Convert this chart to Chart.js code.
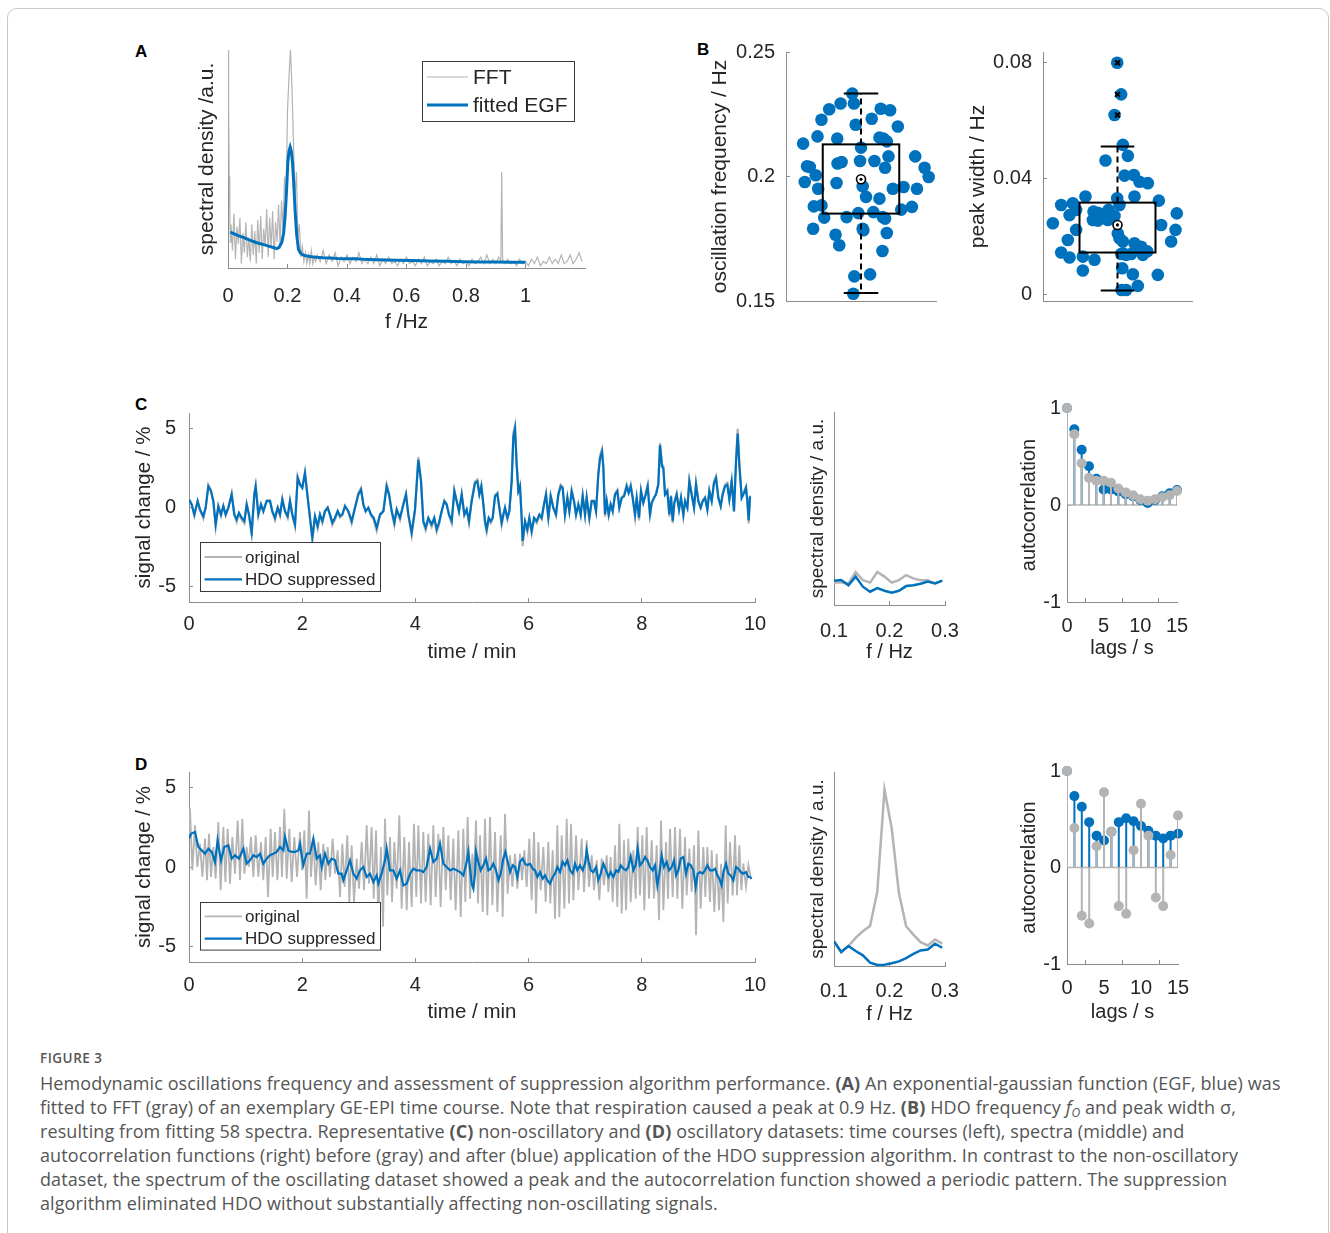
<!DOCTYPE html>
<html>
<head>
<meta charset="utf-8">
<title>Figure 3</title>
<script src="https://cdn.jsdelivr.net/npm/chart.js@4.4.0/dist/chart.umd.min.js"></script>
<style>
  body { margin: 0; background: #fff; }
  #page { position: relative; width: 1330px; height: 1233px; overflow: hidden; background: #fff; }
  #frame { position: absolute; left: 7px; top: 8px; width: 1320px; height: 1260px; border: 1px solid #c8c8c8; border-radius: 10px; }
  #page canvas { position: absolute; }
  .tag { position: absolute; font: bold 17px/17px "Liberation Sans", Arial, sans-serif; color: #000; }
  #figno { position: absolute; left: 40px; top: 1046px; font: 600 13.5px/24px "Open Sans", sans-serif; letter-spacing: 0.5px; color: #555; }
  #caption { position: absolute; left: 40px; top: 1071px; font: 400 18px/24px "Open Sans", sans-serif; letter-spacing: 0.1px; color: #555; white-space: nowrap; }
  #caption b { font-weight: 700; }
  #caption sub { font-size: 12px; line-height: 0; vertical-align: -3px; }
</style>
</head>
<body>
<div id="page">
  <div id="frame"></div>
  <div class="tag" style="left:135px;top:43px">A</div>
  <div class="tag" style="left:697px;top:41px">B</div>
  <div class="tag" style="left:135px;top:396px">C</div>
  <div class="tag" style="left:135px;top:756px">D</div>
  <div id="figno">FIGURE 3</div>
  <div id="caption">Hemodynamic oscillations frequency and assessment of suppression algorithm performance. <b>(A)</b> An exponential-gaussian function (EGF, blue) was<br>fitted to FFT (gray) of an exemplary GE-EPI time course. Note that respiration caused a peak at 0.9 Hz. <b>(B)</b> HDO frequency <i>f</i><sub><i>O</i></sub> and peak width σ,<br>resulting from fitting 58 spectra. Representative <b>(C)</b> non-oscillatory and <b>(D)</b> oscillatory datasets: time courses (left), spectra (middle) and<br>autocorrelation functions (right) before (gray) and after (blue) application of the HDO suppression algorithm. In contrast to the non-oscillatory<br>dataset, the spectrum of the oscillating dataset showed a peak and the autocorrelation function showed a periodic pattern. The suppression<br>algorithm eliminated HDO without substantially affecting non-oscillating signals.</div>
</div>
<script>
// ---------- panel A: FFT and fitted EGF (arbitrary units)
const fftFreq = [0,0.002,0.004,0.006,0.008,0.010,0.015,0.020,0.025,0.030,0.035,0.040,0.045,0.050,0.055,0.060,
  0.065,0.070,0.075,0.080,0.085,0.090,0.095,0.100,0.105,0.110,0.115,0.120,0.125,0.130,0.135,0.140,0.145,0.150,
  0.155,0.160,0.165,0.170,0.175,0.180,0.185,0.190,0.195,0.200,0.205,0.210,0.215,0.220,0.225,0.230,0.235,0.240,
  0.245,0.250,0.255,0.260,0.265,0.270,0.275,0.280,0.285,0.290,0.295,0.300,
  0.31,0.32,0.33,0.34,0.35,0.36,0.37,0.38,0.39,0.40,0.41,0.42,0.43,0.44,0.45,0.46,0.47,0.48,0.49,0.50,
  0.51,0.52,0.53,0.54,0.55,0.56,0.57,0.58,0.59,0.60,0.61,0.62,0.63,0.64,0.65,0.66,0.67,0.68,0.69,0.70,
  0.71,0.72,0.73,0.74,0.75,0.76,0.77,0.78,0.79,0.80,0.81,0.82,0.83,0.84,0.85,0.86,0.87,0.88,0.89,0.90,
  0.91,0.917,0.920,0.923,0.93,0.94,0.95,0.96,0.97,0.98,0.99,1.00,1.01,1.02,1.03,1.04,1.05,1.06,1.07,1.08,
  1.09,1.10,1.11,1.12,1.13,1.14,1.15,1.16,1.17,1.18,1.19];
const fftAmp = [1.00,0.75,0.42,0.26,0.12,0.20,0.08,0.25,0.04,0.19,0.11,0.23,0.02,0.16,0.07,0.21,
  0.05,0.14,0.03,0.20,0.06,0.17,0.02,0.22,0.07,0.24,0.04,0.18,0.10,0.27,0.05,0.23,0.09,0.26,
  0.04,0.21,0.12,0.29,0.10,0.31,0.17,0.42,0.28,0.72,0.88,1.00,0.83,0.58,0.33,0.44,0.13,0.20,
  0.05,0.10,0.03,0.07,0.02,0.06,0.02,0.08,0.02,0.05,0.03,0.06,
  0.03,0.08,0.02,0.06,0.03,0.07,0.01,0.05,0.03,0.06,0.02,0.05,0.03,0.07,0.02,0.04,0.02,0.05,0.02,0.06,
  0.01,0.04,0.02,0.05,0.02,0.03,0.01,0.04,0.02,0.05,0.02,0.03,0.01,0.04,0.02,0.05,0.01,0.03,0.02,0.04,
  0.01,0.03,0.02,0.05,0.02,0.03,0.01,0.04,0.02,0.03,0.01,0.04,0.02,0.03,0.05,0.02,0.06,0.02,0.04,0.02,
  0.05,0.03,0.44,0.04,0.02,0.04,0.02,0.03,0.01,0.04,0.02,0.03,0.01,0.04,0.02,0.05,0.01,0.03,0.02,0.05,
  0.02,0.04,0.02,0.06,0.02,0.03,0.06,0.02,0.04,0.07,0.03];
const egfFreq = [0.008,0.03,0.053,0.075,0.097,0.12,0.142,0.155,0.164,0.172,0.181,0.187,0.192,0.197,0.201,
  0.205,0.209,0.213,0.217,0.222,0.226,0.231,0.237,0.243,0.248,0.256,0.265,0.28,0.298,0.32,0.343,0.37,0.399,
  0.43,0.455,0.5,0.566,0.62,0.678,0.74,0.79,0.85,0.902,0.95,1.0];
const egfAmp = [0.165,0.151,0.139,0.127,0.116,0.107,0.098,0.093,0.089,0.095,0.118,0.16,0.238,0.36,0.482,
  0.535,0.555,0.535,0.482,0.36,0.253,0.15,0.085,0.07,0.063,0.058,0.055,0.052,0.049,0.047,0.046,0.044,0.043,
  0.042,0.040,0.038,0.035,0.034,0.032,0.031,0.029,0.028,0.027,0.0265,0.026];
const fftTicks = [0, 0.2, 0.4, 0.6, 0.8, 1];

// ---------- panel B: 58 fitted spectra (jitter is horizontal spread only)
const freqJitter = [-0.116,-0.094,-0.272,-0.424,0.263,0.388,-0.527,0.143,-0.071,0.491,-0.580,-0.317,0.246,0.344,
  -0.772,0.000,0.723,0.366,-0.313,-0.259,-0.013,0.179,-0.719,0.321,0.848,-0.603,0.902,-0.750,-0.326,0.022,0.424,
  -0.571,0.746,0.067,0.246,-0.629,-0.527,0.679,0.536,-0.036,0.165,0.290,-0.491,-0.638,0.022,0.344,-0.339,-0.290,
  0.286,0.121,-0.089,-0.103,0.031,0.321,-0.683,0.299,-0.192,0.567];
const freqHz = [0.2333,0.2293,0.2293,0.2270,0.2272,0.2266,0.2228,0.2232,0.2208,0.2201,0.2161,0.2152,0.2156,0.2141,
  0.2132,0.2116,0.2081,0.2081,0.2052,0.2058,0.2062,0.2062,0.2041,0.2035,0.2035,0.2005,0.1998,0.1978,0.1974,0.1961,
  0.1951,0.1951,0.1951,0.1918,0.1911,0.1880,0.1884,0.1878,0.1867,0.1853,0.1857,0.1837,0.1835,0.1790,0.1790,0.1773,
  0.1766,0.1724,0.1701,0.1607,0.1599,0.1529,0.1784,0.1831,0.2038,0.2152,0.1837,0.1958];
const freqBox = { lo: 0.1532, q1: 0.1851, med: 0.1989, q3: 0.2129, hi: 0.2333 };
const widthJitter = [-0.004,0.049,-0.040,0.072,0.139,-0.161,0.094,0.219,0.295,0.407,-0.004,0.228,0.555,-0.430,
  -0.756,-0.600,-0.555,-0.322,-0.242,-0.121,0.027,-0.040,-0.331,-0.264,-0.130,0.796,-0.868,0.586,-0.555,0.779,
  0.004,0.027,0.072,-0.667,0.720,0.228,0.273,0.072,0.116,0.183,0.340,-0.756,-0.644,-0.465,-0.309,0.049,0.063,
  -0.465,0.206,0.541,0.273,0.116,0.054,-0.264,-0.644,0.318,-0.197,0.400];
const widthHz = [0.0800,0.0691,0.0620,0.0517,0.0479,0.0463,0.0411,0.0413,0.0390,0.0385,0.0333,0.0339,0.0325,0.0339,
  0.0310,0.0316,0.0293,0.0287,0.0270,0.0293,0.0310,0.0272,0.0258,0.0256,0.0258,0.0281,0.0247,0.0241,0.0224,0.0224,
  0.0212,0.0195,0.0184,0.0189,0.0184,0.0178,0.0155,0.0143,0.0138,0.0141,0.0138,0.0146,0.0129,0.0132,0.0121,0.0141,
  0.0092,0.0084,0.0071,0.0069,0.0031,0.0017,0.0017,0.0283,0.0275,0.0166,0.0275,0.0150];
const widthOutliers = [0.0800, 0.0691, 0.0620];
const widthBox = { lo: 0.0015, q1: 0.0146, med: 0.0241, q3: 0.0318, hi: 0.0511 };

// ---------- panel C: non-oscillatory dataset
const cTime = [0.000,0.047,0.094,0.153,0.194,0.253,0.294,0.342,0.389,0.430,0.471,0.518,0.565,0.607,0.648,0.695,
  0.754,0.801,0.842,0.883,0.931,0.978,1.019,1.060,1.107,1.154,1.178,1.225,1.272,1.313,1.372,1.431,1.472,1.519,
  1.567,1.608,1.649,1.696,1.743,1.784,1.826,1.873,1.920,1.961,2.002,2.049,2.097,2.138,2.179,2.226,2.273,2.314,
  2.356,2.403,2.450,2.491,2.532,2.579,2.627,2.668,2.709,2.756,2.815,2.874,2.933,2.992,3.039,3.080,3.121,3.168,
  3.216,3.263,3.316,3.375,3.434,3.492,3.534,3.581,3.628,3.669,3.728,3.787,3.834,3.875,3.934,3.993,4.052,4.099,
  4.140,4.181,4.228,4.287,4.334,4.376,4.417,4.464,4.511,4.552,4.594,4.641,4.688,4.729,4.770,4.818,4.865,4.906,
  4.947,4.994,
  5.053,5.095,5.130,5.165,5.201,5.230,5.259,5.295,5.330,5.365,5.407,5.448,5.483,5.524,5.554,5.583,5.625,5.660,
  5.701,5.731,5.760,5.789,5.819,5.848,5.878,5.895,5.937,5.978,6.013,6.054,6.096,6.143,6.190,6.231,6.272,6.308,
  6.349,6.390,6.437,6.484,6.526,6.567,6.602,6.643,6.685,6.720,6.761,6.802,6.838,6.879,6.920,6.956,6.997,7.026,
  7.073,7.115,7.156,7.191,7.232,7.262,7.297,7.321,7.350,7.380,7.415,7.450,7.486,7.527,7.568,7.603,7.645,7.686,
  7.733,7.768,7.804,7.839,7.880,7.910,7.951,7.986,8.027,8.069,8.104,8.145,8.175,8.216,8.251,8.292,8.322,8.357,
  8.381,8.410,8.451,8.487,8.516,8.546,8.575,8.616,8.658,8.693,8.734,8.764,8.805,8.840,8.881,8.923,8.958,8.999,
  9.040,9.076,9.117,9.158,9.193,9.235,9.276,9.311,9.352,9.394,9.429,9.470,9.511,9.547,9.588,9.629,9.665,9.694,
  9.723,9.765,9.806,9.841,9.865,9.888,9.912];
const cHdo = [0.50,0.19,-0.44,0.40,-0.13,-0.55,-0.02,1.34,1.03,0.40,-1.07,0.08,-0.44,0.08,-0.44,-0.02,0.82,-0.44,
  -0.75,-0.34,-0.65,-0.86,0.19,-0.44,-1.59,0.82,1.34,-0.44,0.19,-0.23,0.40,0.40,-0.23,-0.65,-0.02,-0.44,0.50,
  -0.23,-0.55,0.40,-0.44,-1.07,1.87,1.45,1.24,2.18,0.61,-0.65,-1.91,-0.55,-1.17,-0.44,-0.86,-0.23,-0.02,-0.44,
  -0.96,-0.65,-0.23,-0.55,-0.44,0.08,-0.23,-0.86,-0.02,0.82,1.13,0.19,-0.23,-0.02,-0.44,-0.65,-1.28,-0.44,-0.23,
  1.34,0.82,-0.23,-0.96,-0.13,-0.65,0.19,0.82,-0.44,-1.59,-0.13,3.02,1.66,-0.86,-1.28,-0.65,-1.07,-0.65,-1.38,
  -0.96,-0.23,0.40,0.19,-0.44,-0.86,1.03,0.40,-0.23,0.82,-0.44,-0.13,-0.86,0.40,
  1.55,1.66,0.82,1.34,0.19,-0.86,-1.38,-0.65,-0.86,-0.65,0.71,0.86,-0.02,-0.96,-0.44,-0.02,-0.65,-0.23,1.66,4.49,
  5.00,2.70,1.03,1.34,-0.65,-2.12,-0.86,-1.38,-0.65,-1.49,-0.65,-0.86,-0.44,-0.65,0.19,0.82,-0.65,0.71,-0.02,-0.44,
  0.82,1.34,1.24,-0.44,0.61,-0.23,1.03,0.40,-0.44,0.19,-0.44,0.71,-0.44,0.61,-0.65,0.40,0.40,-0.23,2.08,3.12,
  3.54,2.49,-0.44,0.40,-0.44,0.19,-0.23,0.82,1.03,-0.02,0.61,0.71,1.34,0.92,1.34,0.61,-0.44,0.61,-0.65,1.03,
  0.29,0.82,1.34,-0.44,0.29,0.61,0.82,1.45,3.96,2.60,2.49,0.82,1.03,-0.44,0.71,-0.86,0.29,0.82,-0.13,0.61,
  -0.44,0.40,-0.02,1.66,0.82,-0.02,1.45,0.40,-0.02,0.40,0.61,-0.13,1.03,0.40,1.55,1.87,0.61,0.08,0.82,1.34,
  1.45,0.50,1.66,-0.23,2.91,4.70,2.70,0.61,0.92,1.24,0.40,-0.82,0.71];
const cOrig = [0.55,0.22,-0.55,0.42,-0.15,-0.70,0.00,1.45,1.10,0.38,-1.25,0.10,-0.55,0.12,-0.52,0.00,0.90,-0.50,
  -0.92,-0.38,-0.78,-1.02,0.22,-0.50,-1.80,0.88,1.42,-0.52,0.22,-0.28,0.45,0.46,-0.28,-0.80,0.00,-0.52,0.56,
  -0.28,-0.68,0.44,-0.52,-1.22,1.98,1.52,1.30,2.26,0.65,-0.78,-2.08,-0.62,-1.32,-0.50,-1.00,-0.26,0.02,-0.52,
  -1.12,-0.78,-0.26,-0.64,-0.50,0.12,-0.28,-1.02,0.02,0.92,1.24,0.22,-0.28,0.00,-0.52,-0.78,-1.48,-0.50,-0.26,
  1.46,0.88,-0.28,-1.12,-0.16,-0.78,0.22,0.90,-0.52,-1.78,-0.15,3.22,1.76,-1.00,-1.45,-0.76,-1.24,-0.76,-1.56,
  -1.10,-0.26,0.45,0.22,-0.52,-1.00,1.12,0.44,-0.28,0.90,-0.52,-0.15,-1.00,0.46,
  1.66,1.78,0.88,1.44,0.22,-1.00,-1.56,-0.76,-1.00,-0.76,0.78,0.94,0.00,-1.12,-0.52,0.00,-0.76,-0.26,1.78,4.75,
  5.22,2.90,1.12,1.46,-0.76,-2.45,-1.00,-1.56,-0.76,-1.66,-0.76,-1.00,-0.52,-0.76,0.22,0.90,-0.76,0.78,0.00,-0.52,
  0.90,1.46,1.34,-0.52,0.66,-0.26,1.12,0.44,-0.52,0.22,-0.52,0.78,-0.52,0.66,-0.76,0.44,0.44,-0.26,2.22,3.32,
  3.72,2.64,-0.58,0.44,-0.52,0.22,-0.26,0.90,1.12,0.00,0.66,0.78,1.46,1.00,1.46,0.66,-0.58,0.66,-0.82,1.12,
  0.32,0.90,1.46,-0.58,0.32,0.66,0.90,1.58,4.10,2.76,2.62,0.90,1.12,-0.58,0.78,-1.00,0.32,0.90,-0.16,0.66,
  -0.58,0.44,0.00,1.78,0.90,0.00,1.58,0.44,0.00,0.44,0.66,-0.16,1.12,0.44,1.66,1.98,0.66,0.10,0.90,1.46,
  1.58,0.55,1.78,-0.28,3.10,5.00,2.88,0.66,1.00,1.34,0.44,-1.02,0.76];
const specFreq = [0.100,0.113,0.126,0.139,0.152,0.165,0.178,0.191,0.204,0.217,0.230,0.243,0.256,0.269,0.282,0.295];
const cSpecOrig = [0.116,0.117,0.112,0.171,0.129,0.116,0.171,0.147,0.116,0.129,0.155,0.138,0.128,0.128,0.112,0.126];
const cSpecHdo = [0.126,0.129,0.102,0.147,0.095,0.069,0.088,0.074,0.064,0.074,0.098,0.102,0.110,0.121,0.112,0.126];
const lags = [0,1,2,3,4,5,6,7,8,9,10,11,12,13,14,15];
const cAcOrig = [1.00,0.73,0.43,0.28,0.25,0.25,0.23,0.17,0.13,0.10,0.06,0.045,0.06,0.08,0.10,0.145];
const cAcHdo = [1.00,0.78,0.57,0.40,0.27,0.16,0.16,0.14,0.11,0.09,0.05,0.02,0.05,0.09,0.12,0.155];

// ---------- panel D: oscillatory dataset
const dTimeHdo = [0.000,0.035,0.106,0.165,0.224,0.283,0.342,0.400,0.459,0.506,0.565,0.624,0.695,0.754,0.813,0.883,
  0.960,1.019,1.078,1.137,1.196,1.254,1.313,1.372,1.431,1.490,1.549,1.608,1.667,1.696,1.755,1.814,1.873,1.932,
  1.961,2.020,2.079,2.138,2.197,2.256,2.314,2.344,2.403,2.462,2.521,2.580,2.638,2.697,2.727,2.786,2.845,2.903,
  2.962,3.021,3.080,3.139,3.198,3.257,3.316,3.345,3.404,3.463,3.492,3.551,3.610,3.669,3.728,3.787,3.846,3.905,
  3.964,4.022,4.081,4.140,4.199,4.258,4.317,4.376,4.435,4.494,4.552,4.611,4.670,4.729,4.788,4.847,4.906,4.935,
  4.994,5.024,5.053,
  5.071,5.112,5.153,5.201,5.248,5.289,5.330,5.377,5.424,5.466,5.507,5.554,5.589,5.625,5.672,5.719,5.760,5.801,
  5.848,5.895,5.937,5.978,6.025,6.072,6.113,6.155,6.202,6.249,6.290,6.331,6.378,6.426,6.467,6.508,6.555,6.602,
  6.643,6.685,6.732,6.779,6.820,6.861,6.908,6.956,6.997,7.026,7.062,7.097,7.144,7.191,7.232,7.274,7.321,7.368,
  7.409,7.450,7.497,7.545,7.586,7.627,7.674,7.721,7.762,7.804,7.851,7.892,7.927,7.968,8.016,8.057,8.098,8.145,
  8.192,8.234,8.275,8.310,8.351,8.392,8.440,8.481,8.528,8.569,8.605,8.646,8.687,8.734,8.781,8.822,8.864,8.911,
  8.952,8.987,9.029,9.076,9.117,9.158,9.205,9.252,9.294,9.335,9.370,9.411,9.441,9.488,9.529,9.570,9.617,9.665,
  9.706,9.747,9.794,9.841,9.883,9.912,9.941];
const dHdo = [1.79,2.10,2.21,1.26,1.05,0.84,1.16,0.95,0.32,1.68,0.42,1.26,1.37,0.53,0.74,0.53,1.16,0.21,0.42,0.74,
  0.63,0.84,0.21,0.53,0.74,0.84,0.95,1.26,1.05,1.89,1.05,0.95,0.95,1.05,1.47,0.11,0.84,0.84,1.79,0.53,
  0.74,0.00,0.84,0.21,0.53,0.42,-0.42,-0.42,-0.84,-0.21,0.42,-0.42,-0.74,-0.21,0.00,-0.63,-0.42,-0.95,-0.53,-1.05,
  -0.42,0.42,1.16,-0.21,-0.21,-0.74,-0.21,-1.16,-1.05,-0.42,-0.11,-0.21,-0.21,-0.32,0.00,1.16,0.32,0.53,1.47,0.21,
  0.00,-0.21,-0.11,-0.21,-0.32,-0.53,0.32,0.95,-1.05,-1.37,-0.42,
  0.95,0.32,-0.21,0.11,0.53,-0.21,-0.11,0.21,-0.21,-0.84,-0.42,0.53,0.95,0.42,-0.32,0.11,0.00,-0.63,0.32,0.53,
  0.21,0.11,0.21,-0.11,-0.21,-0.63,-0.32,-0.74,-0.53,-0.84,-1.05,-0.63,-0.42,0.00,-0.32,0.32,0.11,0.42,-0.21,-0.42,
  0.21,-0.21,0.11,-0.21,0.21,1.05,0.32,-0.21,-0.32,0.00,-0.84,-0.42,0.21,-0.21,-0.63,-0.32,-0.63,-0.21,-0.32,0.11,
  -0.11,-0.21,0.00,0.67,-0.21,0.11,1.16,0.11,0.32,0.63,0.42,0.00,-0.21,0.11,-1.16,-0.42,0.74,0.00,0.32,-0.21,
  0.00,0.42,-0.53,-0.21,0.53,0.63,-0.42,0.21,0.11,-0.21,-1.26,-0.42,-0.32,-0.42,-0.21,0.11,-0.21,-0.21,-0.11,-0.53,
  -0.74,-1.16,-0.32,0.21,-0.42,-0.53,-0.84,0.00,-0.11,-0.32,-0.42,-0.32,-0.63,-0.63,-0.74];
const dTimeOrig = [0.000,0.018,0.059,0.106,0.147,0.194,0.236,0.283,0.318,0.353,0.389,0.430,0.471,0.518,0.559,0.607,
  0.642,0.683,0.724,0.766,0.813,0.860,0.901,0.942,0.978,1.019,1.054,1.095,1.137,1.178,1.225,1.272,1.313,1.355,
  1.396,1.443,1.478,1.519,1.561,1.608,1.643,1.684,1.726,1.773,1.814,1.861,1.908,1.961,1.996,2.038,2.079,2.120,
  2.155,2.197,2.238,2.285,2.326,2.373,2.409,2.450,2.491,2.538,2.580,2.627,2.668,2.709,2.750,2.797,2.833,2.874,
  2.915,2.962,3.004,3.051,3.092,3.139,3.180,3.227,3.263,3.304,3.345,3.392,3.428,3.463,3.504,3.551,3.587,3.628,
  3.669,3.716,3.757,3.804,3.846,3.887,3.934,3.975,4.016,4.052,4.099,4.140,4.181,4.228,4.270,4.317,4.358,4.405,
  4.446,4.494,4.535,4.582,4.623,4.670,4.711,4.759,4.800,4.847,4.882,4.923,4.965,5.006,
  5.024,5.071,5.106,5.142,5.189,5.230,5.271,5.318,5.360,5.407,5.448,5.507,5.542,5.583,5.630,5.672,5.713,5.760,
  5.801,5.848,5.884,5.925,5.966,6.013,6.054,6.096,6.131,6.172,6.213,6.261,6.302,6.349,6.384,6.425,6.467,6.508,
  6.543,6.585,6.632,6.673,6.714,6.749,6.791,6.838,6.879,6.938,6.979,7.026,7.067,7.115,7.156,7.203,7.250,7.291,
  7.332,7.380,7.409,7.450,7.486,7.527,7.568,7.603,7.645,7.686,7.721,7.762,7.804,7.851,7.892,7.927,7.968,8.010,
  8.045,8.086,8.127,8.175,8.216,8.263,8.304,8.340,8.381,8.428,8.463,8.498,8.546,8.587,8.628,8.675,8.716,8.764,
  8.793,8.840,8.881,8.923,8.958,8.999,9.040,9.087,9.123,9.158,9.205,9.235,9.282,9.323,9.364,9.400,9.441,9.482,
  9.517,9.558,9.606,9.647,9.682,9.723,9.759,9.794,9.841,9.883,9.924];
const dOrig = [1.90,3.68,-0.21,2.63,0.00,1.47,-0.63,1.79,-0.84,2.10,-0.63,1.26,-0.74,2.84,-1.47,2.52,-0.95,2.42,
  -1.05,1.89,-0.42,2.94,-0.84,3.05,-0.42,1.26,0.00,1.89,-0.63,2.00,-0.63,1.58,-0.84,1.89,-1.89,2.42,-0.63,2.21,
  -0.84,2.52,-0.63,3.68,-0.74,2.42,-0.95,1.89,-0.63,2.21,-0.21,2.31,-2.00,3.57,-0.63,1.79,-1.16,1.58,-1.47,1.47,
  -0.84,1.26,-0.63,1.79,-0.42,1.05,-1.89,1.47,-1.26,2.00,-2.21,1.37,-2.21,0.53,-1.37,1.58,-1.47,2.63,-1.05,2.52,
  -2.00,2.31,-3.15,1.26,-3.78,3.05,-1.79,1.89,-2.21,1.58,-1.37,3.26,-2.63,1.89,-2.73,1.58,-2.52,2.73,-1.89,2.63,
  -2.31,2.21,-2.21,2.10,-2.42,2.63,-1.89,2.10,-2.52,2.52,-1.47,2.00,-2.10,1.79,-2.73,2.31,-3.15,2.42,-2.21,3.15,
  -2.00,0.84,
  -1.37,2.94,-2.31,2.00,-2.84,3.05,-3.05,3.15,-2.42,2.21,-2.84,2.00,-3.15,3.36,-1.68,0.74,-1.26,0.84,-1.37,0.84,
  -0.84,1.05,-1.26,1.79,-2.10,2.21,-2.94,1.58,-1.47,1.26,-2.21,1.58,-2.31,1.05,-3.26,2.63,-3.15,2.00,-2.63,3.05,
  -2.31,2.73,-2.10,2.00,-1.47,1.79,-1.58,1.68,-1.26,0.74,-1.47,0.42,-2.10,0.53,-1.16,0.74,-1.58,0.63,-2.21,1.37,
  -2.52,2.73,-2.94,1.68,-2.73,1.79,-2.21,1.05,-2.00,2.52,-1.79,2.00,-2.73,2.52,-2.00,1.68,-2.00,1.37,-3.36,2.94,
  -2.73,1.58,-2.00,2.42,-1.89,2.52,-2.00,2.42,-2.63,1.89,-1.79,1.16,-1.58,1.37,-4.31,2.31,-2.63,1.26,-1.89,1.26,
  -2.21,1.05,-2.84,0.84,-2.73,0.21,-3.47,2.63,-2.31,1.58,-1.79,2.00,-1.79,1.37,-1.47,0.21,-1.26,0.11,-0.63];
const dSpecOrig = [0.123,0.074,0.103,0.145,0.179,0.206,0.383,0.909,0.709,0.376,0.205,0.162,0.123,0.106,0.137,0.115];
const dSpecHdo = [0.128,0.072,0.103,0.077,0.055,0.017,0.005,0.007,0.014,0.024,0.041,0.062,0.080,0.085,0.115,0.094];
const dAcOrig = [1.00,0.41,-0.50,-0.58,0.22,0.78,0.37,-0.40,-0.48,0.18,0.66,0.33,-0.31,-0.40,0.13,0.54];
const dAcHdo = [1.00,0.74,0.63,0.47,0.33,0.28,0.37,0.47,0.51,0.48,0.43,0.38,0.33,0.30,0.33,0.35];

// ---------- drawing
const BLUE = '#0072bd', GRAY = '#b4b4b4', AXIS = '#8c8c8c', TXT = '#262626';
const FONT = '"Liberation Sans", Arial, Helvetica, sans-serif';
Chart.defaults.font.family = FONT;
Chart.defaults.animation = false;

const pts = (xs, ys) => xs.map((x, i) => ({ x: x, y: ys[i] }));
const fmt = v => String(Math.round(v * 1000) / 1000);

// legend drawn inside the axes, like matlab's; rows are measured from the box top
Chart.register({
  id: 'boxLegend',
  afterDraw(chart, args, o) {
    if (!o.items) return;
    const ctx = chart.ctx, a = chart.chartArea;
    const x = a.left + o.x, y = a.top + o.y;
    ctx.save();
    ctx.fillStyle = '#fff';
    ctx.fillRect(x, y, o.w, o.h);
    ctx.strokeStyle = '#3a3a3a';
    ctx.lineWidth = 1;
    ctx.strokeRect(Math.round(x) + 0.5, Math.round(y) + 0.5, o.w, o.h);
    ctx.font = o.size + 'px ' + FONT;
    ctx.textBaseline = 'middle';
    o.items.forEach((idx, i) => {
      const ds = chart.data.datasets[idx];
      const yy = y + o.rows[i];
      ctx.strokeStyle = ds.borderColor;
      ctx.lineWidth = ds.borderWidth;
      ctx.beginPath();
      ctx.moveTo(x + o.lx[0], yy);
      ctx.lineTo(x + o.lx[1], yy);
      ctx.stroke();
      ctx.fillStyle = TXT;
      ctx.fillText(ds.label, x + o.tx, yy + 1);
    });
    ctx.restore();
  }
});

// box plot with dashed whiskers and a circled median
Chart.register({
  id: 'boxStats',
  afterDatasetsDraw(chart, args, o) {
    if (!o.stats) return;
    const s = o.stats, xs = chart.scales.x, ys = chart.scales.y, ctx = chart.ctx;
    const X = v => xs.getPixelForValue(v), Y = v => ys.getPixelForValue(v);
    ctx.save();
    ctx.strokeStyle = '#000';
    ctx.lineWidth = 2;
    ctx.setLineDash([6, 4]);
    ctx.beginPath();
    ctx.moveTo(X(0), Y(s.q3)); ctx.lineTo(X(0), Y(s.hi));
    ctx.moveTo(X(0), Y(s.q1)); ctx.lineTo(X(0), Y(s.lo));
    ctx.stroke();
    ctx.setLineDash([]);
    ctx.beginPath();
    ctx.moveTo(X(-o.cap), Y(s.hi)); ctx.lineTo(X(o.cap), Y(s.hi));
    ctx.moveTo(X(-o.cap), Y(s.lo)); ctx.lineTo(X(o.cap), Y(s.lo));
    ctx.stroke();
    ctx.strokeRect(X(-o.half), Y(s.q3), X(o.half) - X(-o.half), Y(s.q1) - Y(s.q3));
    ctx.beginPath();
    ctx.arc(X(0), Y(s.med), 4.5, 0, Math.PI * 2);
    ctx.fillStyle = '#fff';
    ctx.fill();
    ctx.lineWidth = 1.6;
    ctx.stroke();
    ctx.beginPath();
    ctx.arc(X(0), Y(s.med), 1.6, 0, Math.PI * 2);
    ctx.fillStyle = '#000';
    ctx.fill();
    ctx.restore();
  }
});

// stem baseline at zero
Chart.register({
  id: 'stemBase',
  beforeDatasetsDraw(chart, args, o) {
    if (!o.on) return;
    const xs = chart.scales.x, y = chart.scales.y.getPixelForValue(0), ctx = chart.ctx;
    ctx.save();
    ctx.strokeStyle = GRAY;
    ctx.lineWidth = 1.5;
    ctx.beginPath();
    ctx.moveTo(xs.getPixelForValue(xs.min), y);
    ctx.lineTo(xs.getPixelForValue(xs.max), y);
    ctx.stroke();
    ctx.restore();
  }
});

function axis(o) {
  const horiz = o.pos === 'bottom';
  return {
    type: 'linear', position: o.pos, min: o.min, max: o.max, offset: false,
    afterBuildTicks: s => { if (o.ticks) s.ticks = o.ticks.map(v => ({ value: v })); },
    afterFit: s => {
      if (horiz) s.height = o.size; else s.width = o.size;
      s.paddingLeft = s.paddingRight = s.paddingTop = s.paddingBottom = 0;
    },
    grid: { display: !!o.ticks, drawOnChartArea: false, tickLength: -4, color: AXIS, lineWidth: 1 },
    border: { display: true, color: AXIS, width: 1 },
    ticks: {
      display: !!o.ticks, padding: (o.tickPad || 0) + 4, color: TXT, font: { family: FONT, size: 20 },
      maxRotation: 0, autoSkip: false, callback: v => fmt(v)
    },
    title: o.title ? {
      display: true, text: o.title, color: TXT, font: { family: FONT, size: o.titleSize, lineHeight: 1 },
      padding: horiz ? { top: 0, bottom: o.titlePad } : { top: o.titlePad, bottom: 0 }
    } : { display: false }
  };
}

function makeChart(area, pad, datasets, x, y, plugins) {
  const c = document.createElement('canvas');
  c.width = area.r - area.l + pad.l + pad.r;
  c.height = area.b - area.t + pad.t + pad.b;
  c.style.left = (area.l - pad.l) + 'px';
  c.style.top = (area.t - pad.t) + 'px';
  document.getElementById('page').appendChild(c);
  x.size = pad.b; y.size = pad.l;
  return new Chart(c, {
    type: 'scatter',
    data: { datasets: datasets },
    options: {
      responsive: false, events: [],
      layout: { padding: { top: pad.t, right: pad.r, left: 0, bottom: 0 } },
      scales: { x: axis(Object.assign({ pos: 'bottom' }, x)), y: axis(Object.assign({ pos: 'left' }, y)) },
      plugins: Object.assign({ legend: { display: false }, tooltip: { enabled: false } }, plugins || {})
    }
  });
}

const line = (label, data, color, width) => ({
  label: label, data: data, showLine: true, borderColor: color, borderWidth: width,
  pointRadius: 0, tension: 0, backgroundColor: color
});

function stems(vals, color, order) {
  return [
    { type: 'bar', data: pts(lags, vals), backgroundColor: color, maxBarThickness: 2, grouped: false,
      borderWidth: 0, order: order + 1 },
    { data: pts(lags, vals), pointRadius: 5, pointBackgroundColor: color, pointBorderWidth: 0,
      clip: false, order: order }
  ];
}

// A
makeChart({ l: 228, t: 50, r: 585, b: 268 }, { l: 62, t: 8, r: 22, b: 80 },
  [line('fitted EGF', pts(egfFreq, egfAmp), BLUE, 3), line('FFT', pts(fftFreq, fftAmp), GRAY, 1.2)],
  { min: 0, max: 1.2, ticks: fftTicks, tickPad: 16.4, title: 'f /Hz', titleSize: 21, titlePad: 15.5 },
  { min: 0, max: 1, title: 'spectral density /a.u.', titleSize: 21, titlePad: 30.5 },
  { boxLegend: { items: [1, 0], x: 194, y: 11, w: 152, h: 60, rows: [16, 44], lx: [5, 46], tx: 51, size: 21 } });

// B, oscillation frequency
makeChart({ l: 786, t: 52, r: 936, b: 301 }, { l: 82, t: 10, r: 10, b: 12 },
  [{ data: pts(freqJitter, freqHz), pointRadius: 6.3, pointBackgroundColor: BLUE, pointBorderWidth: 0, clip: false }],
  { min: -1, max: 1 },
  { min: 0.15, max: 0.25, ticks: [0.15, 0.2, 0.25], tickPad: 11, title: 'oscillation frequency / Hz', titleSize: 21, titlePad: 5.5 },
  { boxStats: { stats: freqBox, half: 0.51, cap: 0.23 } });

// B, peak width
makeChart({ l: 1043, t: 52, r: 1192, b: 301 }, { l: 82, t: 10, r: 10, b: 12 },
  [{ data: pts(widthOutliers.map(() => 0), widthOutliers), pointStyle: 'crossRot', pointRadius: 3.5,
     pointBorderColor: '#000', pointBorderWidth: 2, clip: false, order: 0 },
   { data: pts(widthJitter, widthHz), pointRadius: 6.3, pointBackgroundColor: BLUE, pointBorderWidth: 0, clip: false, order: 1 }],
  { min: -1, max: 1 },
  { min: -0.0021, max: 0.0837, ticks: [0, 0.04, 0.08], tickPad: 11, title: 'peak width / Hz', titleSize: 21, titlePad: 6.5 },
  { boxStats: { stats: widthBox, half: 0.51, cap: 0.225 } });

// C
makeChart({ l: 189, t: 413, r: 755, b: 602 }, { l: 60, t: 10, r: 20, b: 70 },
  [line('HDO suppressed', pts(cTime, cHdo), BLUE, 2.2), line('original', pts(cTime, cOrig), GRAY, 2.2)],
  { min: 0, max: 10, ticks: [0, 2, 4, 6, 8, 10], tickPad: 10, title: 'time / min', titleSize: 20.5, titlePad: 9.75 },
  { min: -6, max: 6, ticks: [-5, 0, 5], tickPad: 13, title: 'signal change / %', titleSize: 20.5, titlePad: 4.75 },
  { boxLegend: { items: [1, 0], x: 11, y: 129, w: 180, h: 49, rows: [15, 37.3], lx: [4.7, 42], tx: 45, size: 17 } });

makeChart({ l: 834, t: 412, r: 945, b: 605 }, { l: 30, t: 8, r: 25, b: 65 },
  [line('HDO suppressed', pts(specFreq, cSpecHdo), BLUE, 2.5), line('original', pts(specFreq, cSpecOrig), GRAY, 2.5)],
  { min: 0.1, max: 0.3, ticks: [0.1, 0.2, 0.3], tickPad: 14, title: 'f / Hz', titleSize: 20, titlePad: 8 },
  { min: 0, max: 1, title: 'spectral density / a.u.', titleSize: 19, titlePad: 4 });

makeChart({ l: 1067, t: 408, r: 1177, b: 602 }, { l: 48, t: 10, r: 20, b: 68 },
  stems(cAcOrig, GRAY, 1).concat(stems(cAcHdo, BLUE, 3)),
  { min: 0, max: 15, ticks: [0, 5, 10, 15], tickPad: 12.5, title: 'lags / s', titleSize: 20, titlePad: 12 },
  { min: -1, max: 1, ticks: [-1, 0, 1], tickPad: 6, title: 'autocorrelation', titleSize: 20, titlePad: 0.5 },
  { stemBase: { on: true } });

// D
makeChart({ l: 189, t: 772, r: 755, b: 962 }, { l: 60, t: 10, r: 20, b: 70 },
  [line('HDO suppressed', pts(dTimeHdo, dHdo), BLUE, 2.2), line('original', pts(dTimeOrig, dOrig), GRAY, 1.8)],
  { min: 0, max: 10, ticks: [0, 2, 4, 6, 8, 10], tickPad: 11, title: 'time / min', titleSize: 20.5, titlePad: 9.25 },
  { min: -6, max: 6, ticks: [-5, 0, 5], tickPad: 13, title: 'signal change / %', titleSize: 20.5, titlePad: 4.75 },
  { boxLegend: { items: [1, 0], x: 11, y: 130, w: 180, h: 47.6, rows: [14.3, 36.6], lx: [4.7, 42], tx: 45, size: 17 } });

makeChart({ l: 834, t: 772, r: 945, b: 966 }, { l: 30, t: 8, r: 25, b: 65 },
  [line('HDO suppressed', pts(specFreq, dSpecHdo), BLUE, 2.5), line('original', pts(specFreq, dSpecOrig), GRAY, 2.5)],
  { min: 0.1, max: 0.3, ticks: [0.1, 0.2, 0.3], tickPad: 13, title: 'f / Hz', titleSize: 20, titlePad: 7 },
  { min: 0, max: 1, title: 'spectral density / a.u.', titleSize: 19, titlePad: 4 });

makeChart({ l: 1067, t: 771, r: 1178, b: 964 }, { l: 48, t: 10, r: 20, b: 68 },
  stems(dAcOrig, GRAY, 1).concat(stems(dAcHdo, BLUE, 3)),
  { min: 0, max: 15, ticks: [0, 5, 10, 15], tickPad: 12, title: 'lags / s', titleSize: 20, titlePad: 10 },
  { min: -1, max: 1, ticks: [-1, 0, 1], tickPad: 6, title: 'autocorrelation', titleSize: 20, titlePad: 0.5 },
  { stemBase: { on: true } });
</script>
</body>
</html>
